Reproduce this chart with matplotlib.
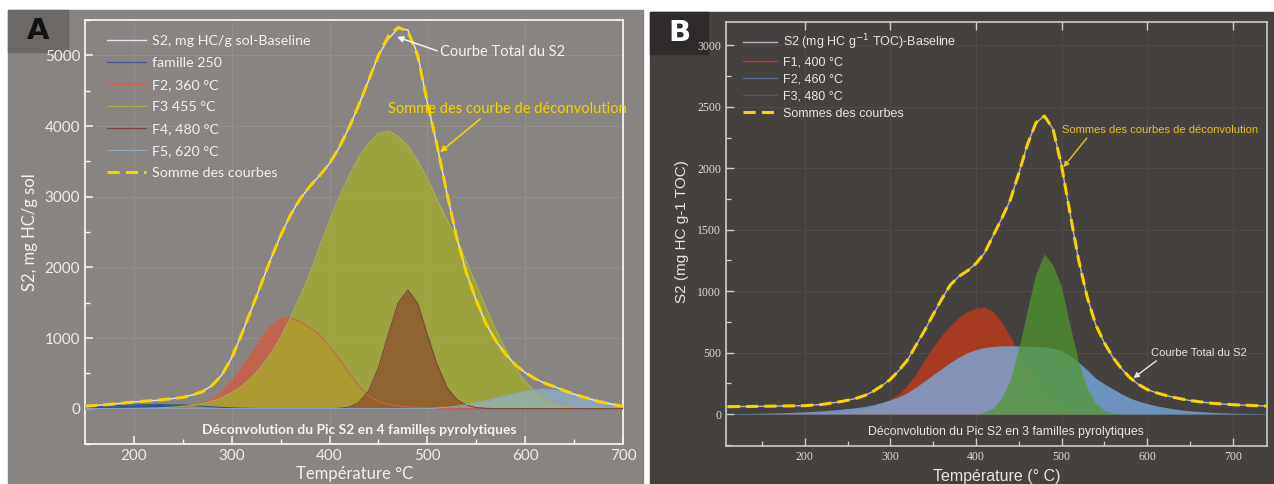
import matplotlib.pyplot as plt
from matplotlib.patches import Rectangle
from matplotlib.ticker import MultipleLocator

# ---------------- panel A : mg HC/g sol vs température ----------------
temp_a = [150, 175, 200, 225, 250, 260, 270, 280, 290, 300, 310, 320, 330, 340,
          350, 360, 370, 380, 390, 400, 410, 420, 430, 440, 450, 460, 470, 480,
          490, 500, 510, 520, 530, 540, 550, 560, 570, 580, 590, 600, 610, 620,
          630, 640, 650, 675, 700]
s2_a = [35, 60, 95, 120, 160, 195, 240, 330, 480, 720, 1050, 1400, 1760, 2120,
        2450, 2740, 2970, 3150, 3300, 3470, 3700, 3980, 4300, 4650, 5000, 5230,
        5380, 5360, 5020, 4330, 3720, 3050, 2420, 1920, 1530, 1200, 960, 770,
        620, 510, 425, 360, 310, 255, 205, 100, 33]
somme_a = [35, 60, 95, 120, 160, 195, 240, 330, 480, 720, 1050, 1400, 1760, 2120,
           2450, 2740, 2970, 3150, 3300, 3470, 3700, 3980, 4300, 4650, 5000, 5270,
           5395, 5340, 5000, 4330, 3720, 3050, 2420, 1920, 1530, 1200, 960, 770,
           620, 510, 425, 360, 310, 255, 205, 100, 33]
f250_a = [25, 38, 54, 60, 52, 44, 35, 26, 18, 12, 7, 4, 2, 1] + [0] * 33
f360_a = [0, 0, 2, 6, 20, 37, 75, 139, 240, 385, 571, 783, 994, 1169, 1272, 1285,
          1230, 1150, 1040, 880, 700, 500, 320, 180, 100, 60, 40, 25, 15, 10, 6,
          3, 1] + [0] * 14
f455_a = [0, 2, 5, 10, 30, 45, 70, 105, 155, 225, 315, 435, 590, 780, 1010, 1285,
          1590, 1920, 2300, 2660, 3000, 3300, 3560, 3760, 3900, 3925, 3860, 3720,
          3510, 3250, 2960, 2680, 2420, 2080, 1760, 1430, 1120, 840, 580, 380,
          240, 120, 70, 35, 15, 3, 0]
f480_a = [0] * 20 + [5, 23, 86, 251, 576, 1044, 1492, 1680, 1492, 1044, 620, 300,
                     130, 50, 15, 5] + [0] * 11
f620_a = [0] * 30 + [10, 20, 35, 55, 80, 110, 145, 180, 215, 242, 262, 270, 262,
                     240, 205, 120, 33]

# ---------------- panel B : mg HC g-1 TOC vs température ----------------
temp_b = [110, 140, 170, 200, 220, 240, 250, 260, 270, 280, 290, 300, 310, 320,
          330, 340, 350, 360, 370, 380, 390, 400, 410, 420, 430, 440, 450, 460,
          470, 480, 490, 500, 510, 520, 530, 540, 550, 560, 570, 580, 590, 600,
          610, 620, 630, 640, 650, 675, 700, 740]
s2_b = [60, 62, 65, 68, 78, 99, 112, 128, 150, 185, 230, 282, 355, 440, 560, 680,
        810, 935, 1050, 1120, 1165, 1225, 1310, 1450, 1590, 1740, 1957, 2190,
        2370, 2425, 2320, 2020, 1630, 1250, 950, 725, 580, 460, 370, 295, 240,
        200, 175, 155, 137, 123, 110, 88, 76, 65]
f400_b = [0, 0, 2, 5, 10, 18, 24, 33, 45, 62, 88, 120, 165, 235, 330, 440, 545,
          640, 720, 790, 835, 862, 870, 832, 748, 632, 501, 374, 265, 172, 108,
          62, 35, 17, 9, 5, 2] + [0] * 13
f460_b = [2, 5, 10, 18, 26, 38, 45, 52, 62, 75, 95, 115, 140, 175, 220, 270, 320,
          370, 420, 462, 500, 525, 542, 550, 555, 556, 555, 553, 550, 546, 535,
          515, 475, 420, 360, 290, 245, 205, 165, 130, 105, 85, 68, 55, 43, 33,
          26, 14, 7, 2]
f480_b = [0] * 22 + [15, 48, 127, 282, 530, 846, 1141, 1304, 1211, 1033, 716, 420,
                     209, 87, 31, 9, 2] + [0] * 11

W, H = 1274, 484
fig = plt.figure(figsize=(W / 100, H / 100), dpi=100)
fig.patch.set_facecolor('white')

bg_a = '#878482'
bg_b = '#45413f'
# panel backgrounds and the A / B boxes sit under the axes
fig.add_artist(Rectangle((8 / W, 0), 635 / W, 474 / H, transform=fig.transFigure,
                         color=bg_a, zorder=-3))
fig.add_artist(Rectangle((650 / W, 0), 624 / W, 472 / H, transform=fig.transFigure,
                         color=bg_b, zorder=-3))
fig.add_artist(Rectangle((8 / W, 1 - 52 / H), 60 / W, 42 / H, transform=fig.transFigure,
                         color='#6b6866', zorder=-2))
fig.add_artist(Rectangle((650 / W, 1 - 54 / H), 58 / W, 42 / H, transform=fig.transFigure,
                         color='#2e2b2a', zorder=-2))
fig.text(38 / W, 1 - 31 / H, 'A', fontsize=21, fontweight='bold', color='#111111',
         ha='center', va='center', family='DejaVu Sans', zorder=-1)
fig.text(679 / W, 1 - 33 / H, 'B', fontsize=21, fontweight='bold', color='white',
         ha='center', va='center', family='DejaVu Sans', zorder=-1)

yellow = '#f5d400'

# ---------- A ----------
fa = 'Lato'
ax = fig.add_axes([85 / W, 40 / H, 538 / W, 424 / H])
ax.set_facecolor('none')
ax.set_xlim(150, 700)
ax.set_ylim(-500, 5500)

comps_a = [
    (f250_a, '#2a4c8e', 0.9, '#3a5888', 'famille 250'),
    (f360_a, '#e8502a', 0.6, '#d06048', 'F2, 360 °C'),
    (f455_a, '#a3ad28', 0.75, '#a8b048', 'F3 455 °C'),
    (f480_a, '#8a4a28', 0.7, '#7a4440', 'F4, 480 °C'),
    (f620_a, '#90b8e0', 0.6, '#90a8c8', 'F5, 620 °C'),
]
handles = []
l0, = ax.plot(temp_a, s2_a, color='#e4e2f0', lw=1.0, zorder=6,
              label='S2, mg HC/g sol-Baseline')
handles.append(l0)
for vals, fc, al, lc, lab in comps_a:
    ax.fill_between(temp_a, 0, vals, color=fc, alpha=al, lw=0, zorder=3)
    ln, = ax.plot(temp_a, vals, color=lc, lw=0.8, zorder=4, label=lab)
    handles.append(ln)
ls, = ax.plot(temp_a, somme_a, color=yellow, lw=2.2, dashes=(4, 2), zorder=7,
              label='Somme des courbes')
handles.append(ls)

ax.xaxis.set_major_locator(MultipleLocator(100))
ax.xaxis.set_minor_locator(MultipleLocator(50))
ax.yaxis.set_major_locator(MultipleLocator(1000))
ax.yaxis.set_minor_locator(MultipleLocator(500))
ax.tick_params(which='both', direction='in', color='#f4f4f4', labelcolor='#eeeeee',
               labelsize=11)
ax.tick_params(which='major', length=6, width=1.1)
ax.tick_params(which='minor', length=3.5, width=1.0)
for lbl in ax.get_xticklabels() + ax.get_yticklabels():
    lbl.set_family(fa)
for sp in ax.spines.values():
    sp.set_color('#f4f4f4')
    sp.set_linewidth(1.3)
ax.grid(True, which='major', color='#928f8c', lw=0.7, zorder=1)

leg = ax.legend(handles=handles, loc='upper left', bbox_to_anchor=(107 / W, 1 - 35 / H),
                bbox_transform=fig.transFigure, frameon=False, borderpad=0,
                borderaxespad=0, handlelength=2.7, handletextpad=0.45,
                labelspacing=0.7, prop={'family': fa, 'size': 10.3})
for t in leg.get_texts():
    t.set_color('#f2f2f2')

ax.text(0.509, 0.033, 'Déconvolution du Pic S2 en 4 familles pyrolytiques',
        transform=ax.transAxes, ha='center', va='center', color='#f4f4f4',
        fontsize=10, fontweight='bold', family=fa)
ax.annotate('Courbe Total du S2', xy=(469, 5260), xytext=(513, 5050),
            color='#f4f4f4', fontsize=10.5, family=fa, ha='left', va='center',
            arrowprops=dict(arrowstyle='-|>', color='#f4f4f4', lw=1.1,
                            mutation_scale=9, shrinkA=0, shrinkB=0,
                            relpos=(0, 0.5)), zorder=9)
ax.annotate('Somme des courbe de déconvolution', xy=(513, 3630), xytext=(460, 4240),
            color=yellow, fontsize=10.5, family=fa, ha='left', va='center',
            arrowprops=dict(arrowstyle='-|>', color=yellow, lw=1.1,
                            mutation_scale=9, shrinkA=0, shrinkB=0,
                            relpos=(0.4, 0)), zorder=9)
fig.text(30 / W, 1 - 232 / H, 'S2, mg HC/g sol', rotation=90, ha='center',
         va='center', color='#f2f2f2', fontsize=12, family=fa)
fig.text(355 / W, 1 - 474 / H, 'Température °C', ha='center', va='center',
         color='#f2f2f2', fontsize=12, family=fa)

# ---------- B ----------
fb = 'Liberation Sans'
bx = fig.add_axes([726 / W, 38 / H, 541 / W, 424 / H])
bx.set_facecolor('none')
bx.set_xlim(108, 740)
bx.set_ylim(-260, 3190)

comps_b = [
    (f400_b, '#b83a1c', 0.85, '#c0392b', 'F1, 400 °C'),
    (f460_b, '#78b0e8', 0.75, '#5a6e90', 'F2, 460 °C'),
    (f480_b, '#4f9a2a', 0.7, '#3f6e2e', 'F3, 480 °C'),
]
handles = []
m0, = bx.plot(temp_b, s2_b, color='#b8b4c8', lw=1.0, zorder=6,
              label='S2 (mg HC g$^{-1}$ TOC)-Baseline')
handles.append(m0)
for vals, fc, al, lc, lab in comps_b:
    bx.fill_between(temp_b, 0, vals, color=fc, alpha=al, lw=0, zorder=3)
    ln, = bx.plot([], [], color=lc, lw=1.0, label=lab)
    handles.append(ln)
ms, = bx.plot(temp_b, s2_b, color=yellow, lw=2.2, dashes=(4, 2), zorder=7,
              label='Sommes des courbes')
handles.append(ms)

bx.xaxis.set_major_locator(MultipleLocator(100))
bx.xaxis.set_minor_locator(MultipleLocator(50))
bx.yaxis.set_major_locator(MultipleLocator(500))
bx.yaxis.set_minor_locator(MultipleLocator(250))
bx.tick_params(which='both', direction='in', color='#cfcfcf', labelcolor='#dddddd',
               labelsize=8.5)
bx.tick_params(which='major', length=6, width=1.0, top=True)
bx.tick_params(which='minor', length=3.5, width=0.9)
for lbl in bx.get_xticklabels() + bx.get_yticklabels():
    lbl.set_family('Liberation Serif')
for sp in bx.spines.values():
    sp.set_color('#cccccc')
    sp.set_linewidth(1.2)
bx.grid(True, which='major', color='#504c4a', lw=0.7, zorder=1)

leg = bx.legend(handles=handles, loc='upper left', bbox_to_anchor=(743 / W, 1 - 32 / H),
                bbox_transform=fig.transFigure, frameon=False, borderpad=0,
                borderaxespad=0, handlelength=2.7, handletextpad=0.5,
                labelspacing=0.4, prop={'family': fb, 'size': 9})
for t in leg.get_texts():
    t.set_color('#e6e6e6')

bx.text(0.5176, 0.034, 'Déconvolution du Pic S2 en 3 familles pyrolytiques',
        transform=bx.transAxes, ha='center', va='center', color='#e6e6e6',
        fontsize=8.8, family=fb)
bx.annotate('Sommes des courbes de déconvolution', xy=(502, 2008), xytext=(500, 2309),
            color='#e8c21e', fontsize=8, family=fb, ha='left', va='center',
            arrowprops=dict(arrowstyle='-|>', color='#e8c21e', lw=1.0,
                            mutation_scale=8, shrinkA=0, shrinkB=0,
                            relpos=(0.14, 0)), zorder=9)
bx.annotate('Courbe Total du S2', xy=(584, 293), xytext=(605, 496),
            color='#e6e6e6', fontsize=8, family=fb, ha='left', va='center',
            arrowprops=dict(arrowstyle='-|>', color='#e6e6e6', lw=1.0,
                            mutation_scale=8, shrinkA=0, shrinkB=0,
                            relpos=(0.09, 0)), zorder=9)
fig.text(682 / W, 1 - 232 / H, 'S2 (mg HC g-1 TOC)', rotation=90, ha='center',
         va='center', color='#e6e6e6', fontsize=11, family=fb)
fig.text(997 / W, 1 - 476 / H, 'Température (° C)', ha='center', va='center',
         color='#e6e6e6', fontsize=11.5, family=fb)

fig.savefig('out.png', dpi=100, facecolor=fig.get_facecolor())
